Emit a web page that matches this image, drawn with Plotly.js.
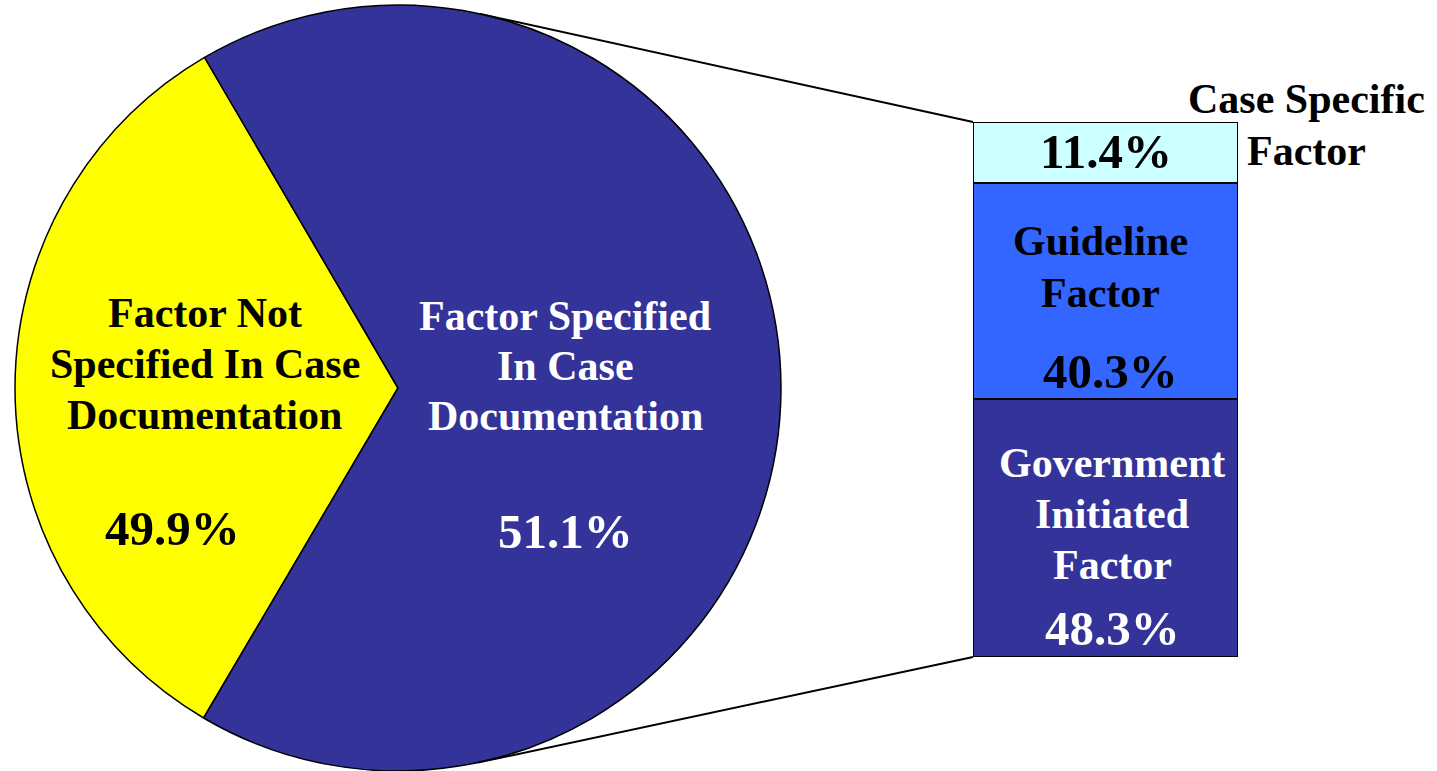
<!DOCTYPE html>
<html>
<head>
<meta charset="utf-8">
<script src="https://cdn.plot.ly/plotly-3.0.1.min.js"></script>
<style>
  html, body { margin: 0; padding: 0; background: #ffffff; }
  #chart { width: 1437px; height: 771px; }
</style>
</head>
<body>
<div id="chart"></div>
<script>
// Pie: the printed shares, and the wedge sizes as they are actually drawn
// (the original wedges do not follow the printed percentages)
const pieLabels = ['Factor Not<br>Specified In Case<br>Documentation', 'Factor Specified<br>In Case<br>Documentation'];
const pieShares = ['49.9%', '51.1%'];
const pieSlices = [33.1, 66.9];

// Breakdown bar, bottom to top
const barLabels = ['Government<br>Initiated<br>Factor', 'Guideline<br>Factor', 'Case Specific<br>Factor'];
const barValues = [48.3, 40.3, 11.4];

const W = 1437;
const H = 771;
const FONT = 'Liberation Serif, Times New Roman, serif';
const NAVY = '#333399';

// pie geometry (pixels)
const pieCx = 398, pieCy = 388, pieR = 383;
// bar box (pixels)
const barLeft = 973, barRight = 1238, barTop = 122, barBottom = 657;

const annotations = [];

function addLines(html, cx, firstBase, gap, size, color) {
  html.split('<br>').forEach((line, i) => {
    const base = firstBase + i * gap;
    annotations.push({
      xref: 'paper', yref: 'paper',
      x: cx / W, y: 1 - (base - 0.3375 * size) / H,
      xanchor: 'center', yanchor: 'middle',
      showarrow: false,
      text: line,
      font: { family: FONT, size: size, color: color, weight: 'bold' }
    });
  });
}

// tangent point on the pie circle seen from an outside point
function tangent(px, py, upper) {
  const dx = px - pieCx, dy = py - pieCy;
  const d = Math.sqrt(dx * dx + dy * dy);
  const base = Math.atan2(dy, dx);
  const off = Math.acos(pieR / d);
  const a = upper ? base - off : base + off;
  return [pieCx + pieR * Math.cos(a), pieCy + pieR * Math.sin(a)];
}

const LABEL = 42, PCT = 49;

// pie texts
addLines(pieLabels[0], 205, 327, 51, LABEL, '#000000');
addLines(pieShares[0], 172, 545, 0, PCT, '#000000');
addLines(pieLabels[1], 565, 330, 50, LABEL, '#ffffff');
addLines(pieShares[1], 565, 548, 0, PCT, '#ffffff');

// bar texts
addLines(barLabels[0], 1112, 477, 51, LABEL, '#ffffff');
addLines(barValues[0].toFixed(1) + '%', 1112, 645, 0, PCT, '#ffffff');
addLines(barLabels[1], 1100, 255, 52, LABEL, '#000000');
addLines(barValues[1].toFixed(1) + '%', 1110, 388, 0, PCT, '#000000');
addLines(barValues[2].toFixed(1) + '%', 1106, 168, 0, PCT, '#000000');
addLines(barLabels[2], 1306, 113, 52, LABEL, '#000000');

const t1 = tangent(barLeft, barTop, true);
const t2 = tangent(barLeft, barBottom, false);
const connectors = [[t1, [barLeft, barTop]], [t2, [barLeft, barBottom]]].map(([a, b]) => ({
  type: 'line', xref: 'paper', yref: 'paper',
  x0: a[0] / W, y0: 1 - a[1] / H, x1: b[0] / W, y1: 1 - b[1] / H,
  line: { color: '#000000', width: 2 }
}));

const pieTrace = {
  type: 'pie',
  values: pieSlices,
  labels: pieLabels,
  sort: false,
  direction: 'clockwise',
  rotation: 210.5,
  textinfo: 'none',
  hoverinfo: 'label',
  marker: { colors: ['#FFFF00', NAVY], line: { color: '#000000', width: 1.5 } },
  domain: {
    x: [(pieCx - pieR) / W, (pieCx + pieR) / W],
    y: [1 - (pieCy + pieR) / H, 1 - (pieCy - pieR) / H]
  }
};

const barColors = [NAVY, '#3366FF', '#CCFFFF'];
const barTraces = barValues.map((v, i) => ({
  type: 'bar',
  x: ['breakdown'],
  y: [v],
  name: barLabels[i],
  marker: { color: barColors[i], line: { color: '#000000', width: 2 } },
  cliponaxis: false,
  hoverinfo: 'y'
}));

Plotly.newPlot('chart', [pieTrace].concat(barTraces), {
  width: W,
  height: H,
  margin: { l: 0, r: 0, t: 0, b: 0 },
  paper_bgcolor: '#ffffff',
  plot_bgcolor: 'rgba(0,0,0,0)',
  showlegend: false,
  barmode: 'stack',
  bargap: 0,
  xaxis: { domain: [barLeft / W, barRight / W], range: [-0.5, 0.5], visible: false, fixedrange: true },
  yaxis: { domain: [1 - barBottom / H, 1 - barTop / H], range: [0, 100], visible: false, fixedrange: true },
  shapes: connectors,
  annotations: annotations
}, { displayModeBar: false, staticPlot: true });
</script>
</body>
</html>
